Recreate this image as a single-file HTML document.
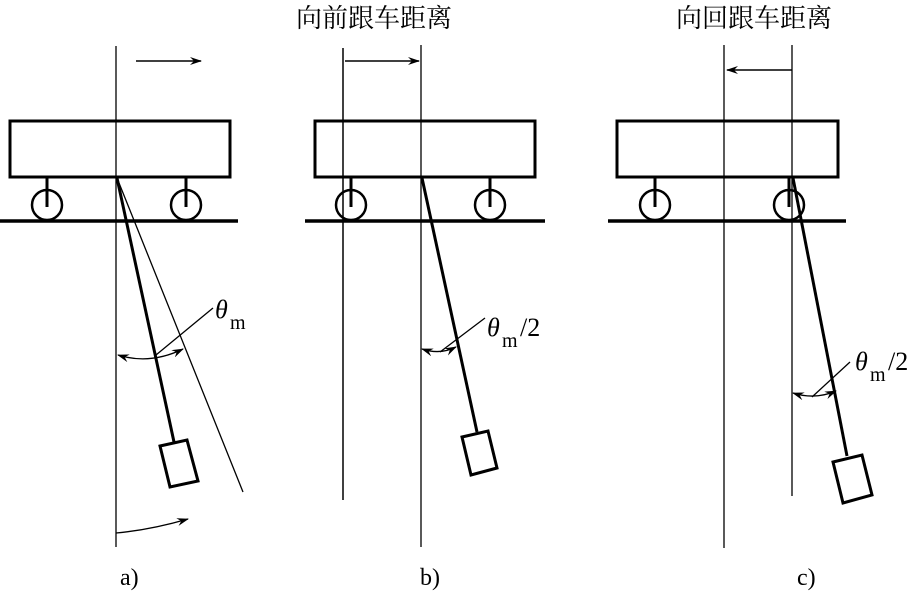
<!DOCTYPE html>
<html><head><meta charset="utf-8"><style>
html,body{margin:0;padding:0;background:#fff;}
svg{display:block;}
text{font-family:"Liberation Serif","Noto Serif CJK SC",serif;fill:#000;}
</style></head><body>
<svg width="913" height="593" viewBox="0 0 913 593" xmlns="http://www.w3.org/2000/svg">
<defs>
<marker id="ah" markerWidth="12" markerHeight="8" refX="11" refY="4" orient="auto-start-reverse" markerUnits="userSpaceOnUse">
<path d="M0,0 L12,4 L0,8 L4,4 Z" fill="#000"/></marker>
</defs>
<g stroke="#000" fill="none">
<!-- Panel a -->
<line x1="116" y1="46" x2="116" y2="547" stroke-width="1.3"/>
<line x1="136" y1="61" x2="201" y2="61" stroke-width="1.5" marker-end="url(#ah)"/>
<rect x="10" y="121" width="220" height="56" stroke-width="3"/>
<line x1="47" y1="177" x2="47" y2="207" stroke-width="3"/>
<circle cx="47" cy="205" r="15" stroke-width="2.5"/>
<line x1="186" y1="177" x2="186" y2="207" stroke-width="3"/>
<circle cx="186" cy="205" r="15" stroke-width="2.5"/>
<line x1="0" y1="221" x2="238" y2="221" stroke-width="3.5"/>
<line x1="117" y1="178" x2="174" y2="442" stroke-width="3"/>
<line x1="117" y1="178" x2="243" y2="492" stroke-width="1.3"/>
<polygon points="160,446 187,440 198,481 170,487" stroke-width="3"/>
<path d="M118,355 Q150,365 183,349" stroke-width="1.3" marker-start="url(#ah)" marker-end="url(#ah)"/>
<line x1="156" y1="355" x2="213" y2="308" stroke-width="1.3"/>
<path d="M116,533 Q150,530 188,519" stroke-width="1.3" marker-end="url(#ah)"/>
<!-- Panel b -->
<line x1="343" y1="48" x2="343" y2="500" stroke-width="1.5"/>
<line x1="421" y1="45" x2="421" y2="547" stroke-width="1.3"/>
<line x1="345" y1="61" x2="419" y2="61" stroke-width="1.5" marker-end="url(#ah)"/>
<rect x="315" y="121" width="220" height="56" stroke-width="3"/>
<line x1="351" y1="177" x2="351" y2="207" stroke-width="3"/>
<circle cx="351" cy="205" r="15" stroke-width="2.5"/>
<line x1="490" y1="177" x2="490" y2="207" stroke-width="3"/>
<circle cx="490" cy="205" r="15" stroke-width="2.5"/>
<line x1="305" y1="221" x2="545" y2="221" stroke-width="3.5"/>
<line x1="422" y1="178" x2="477" y2="432" stroke-width="3"/>
<polygon points="462,437 488,431 497,468 471,475" stroke-width="3"/>
<path d="M422,349 Q440,355 456,347" stroke-width="1.3" marker-start="url(#ah)" marker-end="url(#ah)"/>
<line x1="440" y1="352" x2="485" y2="318" stroke-width="1.3"/>
<!-- Panel c -->
<line x1="724" y1="45" x2="724" y2="548" stroke-width="1.3"/>
<line x1="792" y1="45" x2="792" y2="496" stroke-width="1.3"/>
<line x1="792" y1="70" x2="727" y2="70" stroke-width="1.5" marker-end="url(#ah)"/>
<rect x="617" y="121" width="221" height="56" stroke-width="3"/>
<line x1="655" y1="177" x2="655" y2="207" stroke-width="3"/>
<circle cx="655" cy="205" r="15" stroke-width="2.5"/>
<line x1="789" y1="177" x2="789" y2="207" stroke-width="3"/>
<circle cx="789" cy="205" r="15" stroke-width="2.5"/>
<line x1="608" y1="221" x2="846" y2="221" stroke-width="3.5"/>
<line x1="793" y1="178" x2="847" y2="456" stroke-width="3"/>
<polygon points="833,462 862,455 872,495 843,503" stroke-width="3"/>
<path d="M793,393 Q815,400 836,391" stroke-width="1.3" marker-start="url(#ah)" marker-end="url(#ah)"/>
<line x1="812" y1="397" x2="850" y2="362" stroke-width="1.3"/>
</g>
<text x="215" y="318" font-size="26" font-style="italic">θ</text>
<text x="230" y="329" font-size="20">m</text>
<text x="487" y="336" font-size="26" font-style="italic">θ</text>
<text x="502" y="347" font-size="20">m</text>
<text x="520" y="336" font-size="26">/2</text>
<text x="855" y="370" font-size="26" font-style="italic">θ</text>
<text x="870" y="381" font-size="20">m</text>
<text x="888" y="370" font-size="26">/2</text>
<text x="296" y="27" font-size="26" font-family="Liberation Sans, Noto Sans CJK SC, sans-serif">向前跟车距离</text>
<text x="676" y="27" font-size="26" font-family="Liberation Sans, Noto Sans CJK SC, sans-serif">向回跟车距离</text>
<text x="120" y="585" font-size="24">a)</text>
<text x="420" y="585" font-size="24">b)</text>
<text x="797" y="585" font-size="24">c)</text>
</svg>
</body></html>
